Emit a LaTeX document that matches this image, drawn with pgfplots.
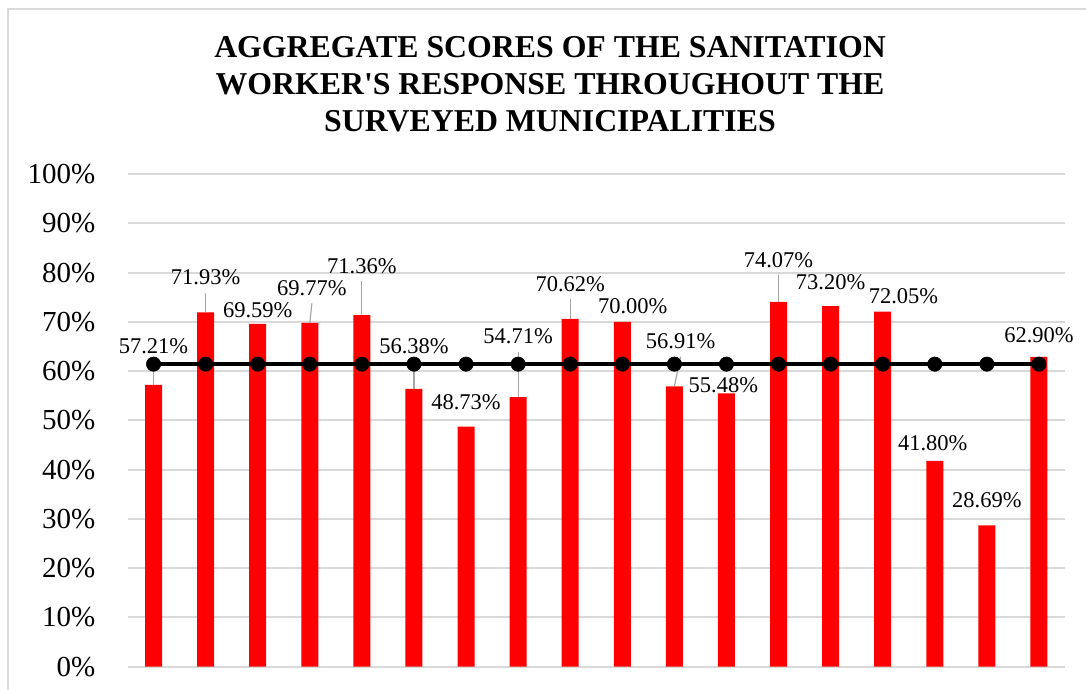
\documentclass[border=0pt]{standalone}
\usepackage{pgfplots}
\usepackage{pgfplotstable}
\pgfplotsset{compat=1.18}
\usepackage{fontspec}
\setmainfont{Liberation Serif}
\newfontfamily\titlefont{Liberation Serif}[Ligatures=TeXOff]
\pgfplotstableread{
x score
0 57.21
1 71.93
2 69.59
3 69.77
4 71.36
5 56.38
6 48.73
7 54.71
8 70.62
9 70.00
10 56.91
11 55.48
12 74.07
13 73.20
14 72.05
15 41.80
16 28.69
17 62.90
}\scores
\pgfplotstableread{
x avg
0 61.41
1 61.41
2 61.41
3 61.41
4 61.41
5 61.41
6 61.41
7 61.41
8 61.41
9 61.41
10 61.41
11 61.41
12 61.41
13 61.41
14 61.41
15 61.41
16 61.41
17 61.41
}\avgline
\definecolor{gridgray}{HTML}{D9D9D9}
\definecolor{leadgray}{HTML}{A6A6A6}
\tikzset{dl/.style={font=\fontsize{22.5}{24}\selectfont, inner sep=0pt}}
\begin{document}
\begin{tikzpicture}[x=1pt,y=1pt]
\useasboundingbox (0,0) rectangle (1086,-689);
\begin{scope}
\clip (0,0) rectangle (1086,-689);
\draw[draw=gridgray, line width=2pt] (8,-9) rectangle (1110,-710);
\end{scope}
\node[font=\titlefont\fontsize{31.8}{37}\selectfont\bfseries, align=center] at (550,-84) {AGGREGATE SCORES OF THE SANITATION\\WORKER'S RESPONSE THROUGHOUT THE\\SURVEYED MUNICIPALITIES};
\begin{axis}[
  at={(127.5pt,-666.7pt)}, anchor=south west,
  scale only axis, width=937.5pt, height=492.7pt,
  xmin=-0.5, xmax=17.5, ymin=0, ymax=100,
  clip=false,
  axis line style={draw=none},
  xtick=\empty,
  ytick={0,10,...,100},
  yticklabel={\pgfmathprintnumber[assume math mode=true]{\tick}\%},
  major tick length=0pt,
  yticklabel style={font=\fontsize{29}{30}\selectfont, anchor=east, inner sep=0pt, xshift=-32pt},
  ymajorgrids,
  grid style={draw=gridgray, line width=2pt},
]
\addplot[ybar, bar width=17pt, fill=red, draw=none] table[x=x, y=score] {\scores};
% leader lines
\draw[leadgray, line width=1.2pt] (axis cs:0,61.95) -- (axis cs:0,57.21);
\draw[leadgray, line width=1.2pt] (axis cs:1,75.95) -- (axis cs:1,71.93);
\draw[leadgray, line width=1.2pt] (axis cs:3.04,73.75) -- (axis cs:3,69.77);
\draw[leadgray, line width=1.2pt] (axis cs:4,78.25) -- (axis cs:4,71.36);
\draw[leadgray, line width=1.2pt] (axis cs:5,61.95) -- (axis cs:5,56.38);
\draw[leadgray, line width=1.2pt] (axis cs:7,63.95) -- (axis cs:7,54.71);
\draw[leadgray, line width=1.2pt] (axis cs:8,74.55) -- (axis cs:8,70.62);
\draw[leadgray, line width=1.2pt] (axis cs:10.12,62.95) -- (axis cs:10,56.91);
\draw[leadgray, line width=1.2pt] (axis cs:12,79.45) -- (axis cs:12,74.07);
\addplot[black, line width=4.3pt, mark=*, mark size=7.2pt, mark options={solid, fill=black, line width=0.5pt}] table[x=x, y=avg] {\avgline};
% data labels
\node[dl] at (axis cs:0,65.0) {57.21\%};
\node[dl] at (axis cs:1,79.0) {71.93\%};
\node[dl] at (axis cs:2,72.3) {69.59\%};
\node[dl] at (axis cs:3.04,76.8) {69.77\%};
\node[dl] at (axis cs:4,81.3) {71.36\%};
\node[dl] at (axis cs:5,65.0) {56.38\%};
\node[dl] at (axis cs:6,53.6) {48.73\%};
\node[dl] at (axis cs:7,67.0) {54.71\%};
\node[dl] at (axis cs:8,77.6) {70.62\%};
\node[dl] at (axis cs:9.2,73.1) {70.00\%};
\node[dl] at (axis cs:10.12,66.0) {56.91\%};
\node[dl] at (axis cs:10.94,57.2) {55.48\%};
\node[dl] at (axis cs:12,82.5) {74.07\%};
\node[dl] at (axis cs:13,78.0) {73.20\%};
\node[dl] at (axis cs:14.4,75.2) {72.05\%};
\node[dl] at (axis cs:14.96,45.4) {41.80\%};
\node[dl] at (axis cs:16,33.8) {28.69\%};
\node[dl] at (axis cs:17,67.2) {62.90\%};
\end{axis}
\end{tikzpicture}
\end{document}
